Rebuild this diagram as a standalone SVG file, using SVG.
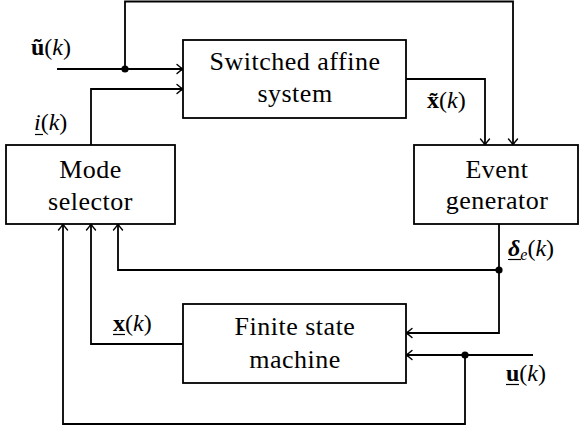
<svg xmlns="http://www.w3.org/2000/svg" width="580" height="430" viewBox="0 0 580 430">
  <style>
    .box { fill: #ffffff; stroke: #000000; stroke-width: 1.8; }
    .wire { fill: none; stroke: #000000; stroke-width: 1.8; }
    .uline { fill: none; stroke: #000000; stroke-width: 1.2; }
    .arr { marker-end: url(#arrow); }
    .dot { fill: #000000; }
    .lbl { font-family: 'Liberation Serif', serif; font-size: 26px; text-anchor: middle; letter-spacing: 0.5px; fill: #000000; }
    .math { font-family: 'Liberation Serif', serif; font-size: 24px; fill: #000000; }
  </style>
  <defs>
    <marker id="arrow" viewBox="-8 -6 10 12" refX="0" refY="0" markerWidth="10" markerHeight="12" markerUnits="userSpaceOnUse" orient="auto">
      <path d="M -6 -4.5 Q -2 -1 0 0 Q -2 1 -6 4.5" fill="none" stroke="#000000" stroke-width="1.4" stroke-linecap="round"/>
    </marker>
  </defs>

  <g id="connectors">
    <path class="wire arr" d="M 57 69 H 183"/>
    <path class="wire arr" d="M 125 69 V 1.5 H 513 V 145"/>
    <path class="wire arr" d="M 91 145 V 89 H 183"/>
    <path class="wire arr" d="M 406 79 H 485 V 145"/>
    <path class="wire arr" d="M 499 224 V 333 H 406"/>
    <path class="wire arr" d="M 499 270 H 118 V 224"/>
    <path class="wire arr" d="M 183 344 H 91 V 224"/>
    <path class="wire arr" d="M 533 355 H 406"/>
    <path class="wire arr" d="M 465 355 V 424 H 63 V 224"/>
    <circle class="dot" cx="125" cy="69" r="3.6"/>
    <circle class="dot" cx="499" cy="270" r="3.6"/>
    <circle class="dot" cx="465" cy="355" r="3.6"/>
  </g>

  <g id="switched-affine-system">
    <rect class="box" x="183" y="40" width="223" height="78"/>
    <text class="lbl" x="295" y="70">Switched affine</text>
    <text class="lbl" x="295" y="102">system</text>
  </g>

  <g id="mode-selector">
    <rect class="box" x="6" y="145" width="169" height="79"/>
    <text class="lbl" x="90.5" y="178">Mode</text>
    <text class="lbl" x="90.5" y="210">selector</text>
  </g>

  <g id="event-generator">
    <rect class="box" x="414" y="145" width="164" height="79"/>
    <text class="lbl" x="497" y="178">Event</text>
    <text class="lbl" x="497" y="209">generator</text>
  </g>

  <g id="finite-state-machine">
    <rect class="box" x="183" y="304" width="223" height="79"/>
    <text class="lbl" x="295" y="335">Finite state</text>
    <text class="lbl" x="295" y="368">machine</text>
  </g>

  <g id="labels">
    <text class="math" x="31" y="55"><tspan font-weight="bold">ũ</tspan>(<tspan font-style="italic">k</tspan>)</text>
    <text class="math" x="34" y="130"><tspan font-style="italic">i</tspan>(<tspan font-style="italic">k</tspan>)</text>
    <text class="math" x="427" y="108"><tspan font-weight="bold">x̃</tspan>(<tspan font-style="italic">k</tspan>)</text>
    <text class="math" x="508" y="256"><tspan font-weight="bold" font-style="italic">δ</tspan><tspan font-size="16" dy="4" font-style="italic">e</tspan><tspan dy="-4">(</tspan><tspan font-style="italic">k</tspan>)</text>
    <text class="math" x="113" y="331"><tspan font-weight="bold">x</tspan>(<tspan font-style="italic">k</tspan>)</text>
    <text class="math" x="506" y="381"><tspan font-weight="bold">u</tspan>(<tspan font-style="italic">k</tspan>)</text>
    <path class="uline" d="M 35 134.5 H 43"/>
    <path class="uline" d="M 508 259.5 H 521"/>
    <path class="uline" d="M 113 334.5 H 125"/>
    <path class="uline" d="M 506 384.5 H 519"/>
  </g>
</svg>
